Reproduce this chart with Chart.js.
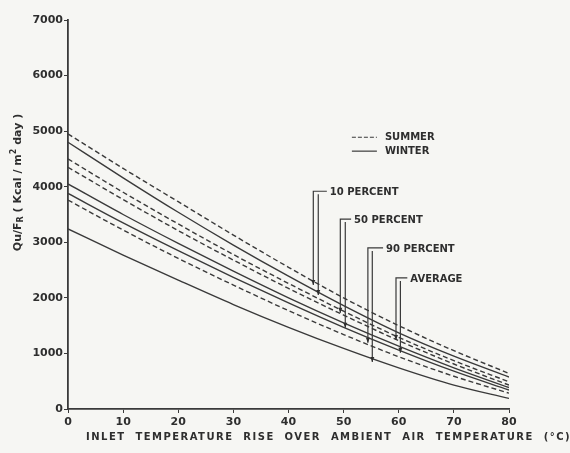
<!DOCTYPE html>
<html lang="en">
<head>
  <meta charset="UTF-8">
  <title>Qu/FR vs inlet temperature rise</title>
  <style>
    html, body {
      margin: 0;
      padding: 0;
      background: #f6f6f3;
    }
    #wrap {
      width: 570px;
      height: 453px;
      position: relative;
    }
  </style>
  <script src="https://cdn.jsdelivr.net/npm/chart.js"></script>
</head>
<body>
  <div id="wrap">
    <canvas id="chart"></canvas>
  </div>

  <script>
    // temperature rise (°C) where the curves were read
    const temps = [0, 10, 20, 30, 40, 50, 60, 70, 80];

    // Qu/FR (Kcal/m2 day)
    const summer10  = [4950, 4330, 3730, 3130, 2550, 2000, 1500, 1050, 640];
    const winter10  = [4800, 4160, 3540, 2950, 2390, 1860, 1370, 950, 575];
    const summer50  = [4500, 3900, 3330, 2780, 2260, 1760, 1290, 870, 490];
    const summerAvg = [4350, 3770, 3210, 2680, 2170, 1690, 1230, 810, 430];
    const winter50  = [4050, 3500, 2980, 2480, 2000, 1550, 1130, 740, 385];
    const winterAvg = [3880, 3350, 2850, 2370, 1910, 1470, 1060, 680, 340];
    const summer90  = [3760, 3220, 2710, 2230, 1770, 1340, 940, 590, 285];
    const winter90  = [3240, 2770, 2320, 1880, 1470, 1090, 740, 430, 190];

    const xTicks = [0, 10, 20, 30, 40, 50, 60, 70, 80];
    const yTicks = [0, 1000, 2000, 3000, 4000, 5000, 6000, 7000];

    // curve labels: text anchor and the two pointer tips (data units)
    const calloutNames = ['10 PERCENT', '50 PERCENT', '90 PERCENT', 'AVERAGE'];
    const calloutText  = [[47.5, 3900], [51.9, 3400], [57.7, 2880], [62.1, 2340]];
    const calloutTipA  = [[44.5, 2230], [49.4, 1730], [54.4, 1190], [59.5, 1240]];
    const calloutTipB  = [[45.4, 2050], [50.3, 1460], [55.2, 845], [60.3, 1010]];

    const legendNames = ['SUMMER', 'WINTER'];
    const legendPos = [[51.5, 4890], [51.5, 4640]];

    const ink = '#3a3a3a';

    function pts(arr) {
      return temps.map((t, i) => ({ x: t, y: arr[i] }));
    }

    function curve(label, arr, dashed) {
      return {
        label: label,
        data: pts(arr),
        borderColor: ink,
        borderWidth: 1.4,
        borderDash: dashed ? [5, 3] : [],
        pointRadius: 0,
        fill: false,
        cubicInterpolationMode: 'monotone'
      };
    }

    const notes = {
      id: 'notes',
      afterDatasetsDraw(chart) {
        const ctx = chart.ctx;
        const xs = chart.scales.x, ys = chart.scales.y;
        const area = chart.chartArea;
        ctx.save();
        ctx.strokeStyle = ink;
        ctx.fillStyle = '#2e2e2e';
        ctx.lineWidth = 1.2;

        // legend
        ctx.font = 'bold 10px "DejaVu Sans"';
        ctx.textBaseline = 'middle';
        legendNames.forEach((name, i) => {
          const px = xs.getPixelForValue(legendPos[i][0]);
          const py = ys.getPixelForValue(legendPos[i][1]);
          ctx.setLineDash(i === 0 ? [4, 2] : []);
          ctx.beginPath();
          ctx.moveTo(px, py);
          ctx.lineTo(px + 25, py);
          ctx.stroke();
          ctx.setLineDash([]);
          ctx.fillText(name, px + 33, py);
        });

        // callouts
        calloutNames.forEach((name, i) => {
          const tx = xs.getPixelForValue(calloutText[i][0]);
          const ty = ys.getPixelForValue(calloutText[i][1]);
          const ax = xs.getPixelForValue(calloutTipA[i][0]);
          const ay = ys.getPixelForValue(calloutTipA[i][1]);
          const bx = xs.getPixelForValue(calloutTipB[i][0]);
          const by = ys.getPixelForValue(calloutTipB[i][1]);
          ctx.beginPath();
          ctx.moveTo(ax, ay);
          ctx.lineTo(ax, ty - 1);
          ctx.lineTo(tx - 3, ty - 1);
          ctx.moveTo(bx, by);
          ctx.lineTo(bx, ty + 2);
          ctx.stroke();
          [[ax, ay], [bx, by]].forEach(p => {
            ctx.beginPath();
            ctx.moveTo(p[0] - 2, p[1] - 5);
            ctx.lineTo(p[0] + 2, p[1] - 5);
            ctx.lineTo(p[0], p[1]);
            ctx.closePath();
            ctx.fill();
          });
          ctx.fillText(name, tx, ty);
        });

        // x axis title, spread out like the original lettering
        const title = 'INLET  TEMPERATURE  RISE  OVER  AMBIENT  AIR  TEMPERATURE  (°C)';
        ctx.font = 'bold 10px "DejaVu Sans"';
        ctx.textAlign = 'left';
        const startX = area.left + 18;
        const target = 571 - startX;
        const w = ctx.measureText(title).width;
        ctx.letterSpacing = Math.max(0, (target - w) / title.length) + 'px';
        ctx.fillText(title, startX, area.bottom + 28);

        // y axis title: Qu/F with subscript R
        ctx.letterSpacing = '0px';
        ctx.translate(18, (area.top + area.bottom) / 2 - 32);
        ctx.rotate(-Math.PI / 2);
        ctx.textAlign = 'left';
        const big = 'bold 11px "DejaVu Sans"', small = 'bold 8px "DejaVu Sans"';
        const parts = [['Qu/F', big, 0], ['R', small, 3], [' ( Kcal / m', big, 0], ['2', small, -4], [' day )', big, 0]];
        let total = 0;
        parts.forEach(p => { ctx.font = p[1]; total += ctx.measureText(p[0]).width; });
        let cx = -total / 2;
        parts.forEach(p => {
          ctx.font = p[1];
          ctx.fillText(p[0], cx, p[2]);
          cx += ctx.measureText(p[0]).width;
        });
        ctx.restore();
      }
    };

    new Chart(document.getElementById('chart'), {
      type: 'line',
      data: {
        datasets: [
          curve('Summer 10 percent', summer10, true),
          curve('Winter 10 percent', winter10, false),
          curve('Summer 50 percent', summer50, true),
          curve('Summer average', summerAvg, true),
          curve('Winter 50 percent', winter50, false),
          curve('Winter average', winterAvg, false),
          curve('Summer 90 percent', summer90, true),
          curve('Winter 90 percent', winter90, false)
        ]
      },
      options: {
        responsive: true,
        maintainAspectRatio: false,
        animation: false,
        layout: { padding: { top: 20, right: 61, left: 0, bottom: 0 } },
        plugins: {
          legend: { display: false },
          tooltip: { enabled: false }
        },
        scales: {
          x: {
            type: 'linear',
            min: 0,
            max: 80,
            afterBuildTicks: s => { s.ticks = xTicks.map(v => ({ value: v })); },
            afterFit: s => { s.height = 44; },
            border: { display: true, color: ink, width: 1.8 },
            grid: { drawOnChartArea: false, drawTicks: true, tickLength: 4, color: ink },
            ticks: {
              color: '#2e2e2e',
              padding: 3,
              maxRotation: 0,
              font: { family: 'DejaVu Sans', size: 11, weight: 'bold' }
            }
          },
          y: {
            min: 0,
            max: 7000,
            afterBuildTicks: s => { s.ticks = yTicks.map(v => ({ value: v })); },
            afterFit: s => { s.width = 68; },
            border: { display: true, color: ink, width: 1.8 },
            grid: { drawOnChartArea: false, drawTicks: true, tickLength: 4, color: ink },
            ticks: {
              color: '#2e2e2e',
              padding: 1,
              callback: v => String(v),
              font: { family: 'DejaVu Sans', size: 11, weight: 'bold' }
            }
          }
        }
      },
      plugins: [notes]
    });
  </script>
</body>
</html>
